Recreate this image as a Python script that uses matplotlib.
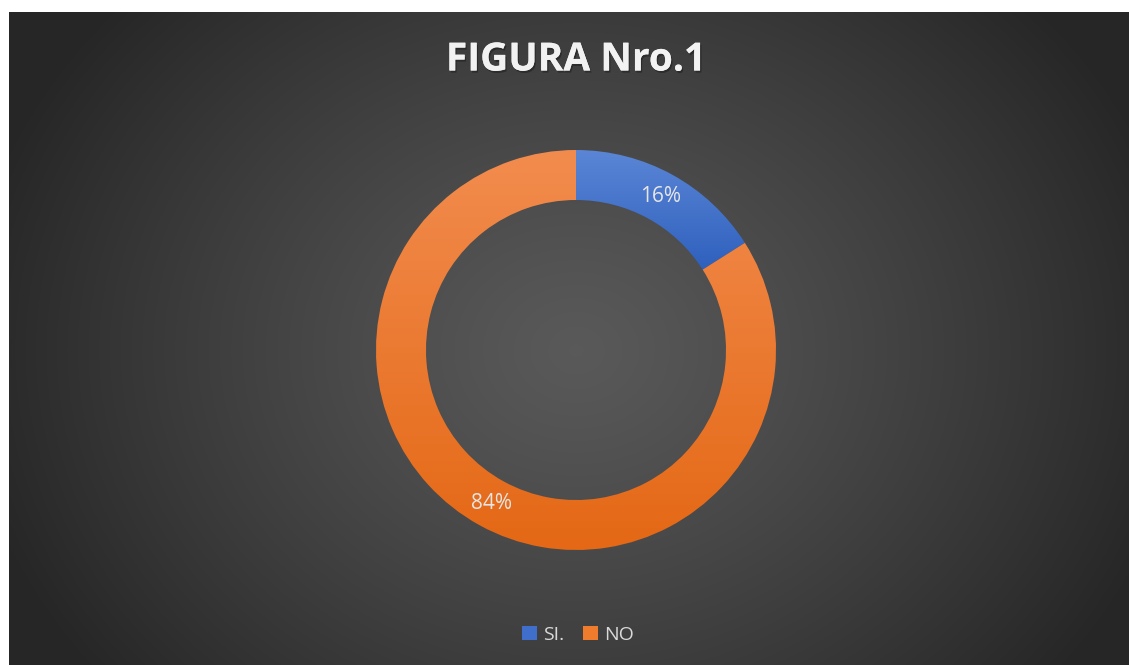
import matplotlib.pyplot as plt
import matplotlib.patheffects as pe
import numpy as np
from matplotlib.colors import to_rgb
from matplotlib.patches import Rectangle

# data
labels = ["SI.", "NO"]
values = [16, 84]
colors_top = ["#5b86d6", "#f28c4e"]
colors_bottom = ["#2e60bd", "#e46815"]
legend_colors = ["#3f6fcb", "#ef7b2c"]

W, H = 1129, 665
fig = plt.figure(figsize=(W / 100, H / 100), dpi=100, facecolor="white")

# dark radial-gradient background
bg = fig.add_axes([9 / W, 0, (W - 9) / W, (H - 12) / H])
bg.set_axis_off()
yy, xx = np.mgrid[0:653, 0:1120]
cx, cy = 567, 338
d = np.sqrt(((xx - cx) / 620) ** 2 + ((yy - cy) / 520) ** 2)
d = np.clip(d, 0, 1)
level = 0.35 - (0.35 - 0.15) * d ** 1.2
img = np.dstack([level, level, level])
bg.imshow(img, aspect="auto", extent=[0, 1, 0, 1], origin="upper")
bg.set_xlim(0, 1)
bg.set_ylim(0, 1)

# title
fig.text(576 / W, 1 - 60 / H, "FIGURA Nro.1", ha="center", va="center",
         fontsize=28, fontweight="bold", color="#f2f2f2", family="Open Sans",
         path_effects=[pe.withSimplePatchShadow(offset=(1, -1.5), shadow_rgbFace="black", alpha=0.3), pe.Normal()])

# doughnut
R = 200
ax = fig.add_axes([(576 - R) / W, (H - 350 - R) / H, 2 * R / W, 2 * R / H])
ax.set_axis_off()
wedges, _ = ax.pie(values, startangle=90, counterclock=False,
                   radius=1.0, wedgeprops=dict(width=0.25, edgecolor="none"))
ax.set_xlim(-1, 1)
ax.set_ylim(-1, 1)

# vertical gradient fill clipped to each wedge, spanning that wedge's own height
for w, ct, cb in zip(wedges, colors_top, colors_bottom):
    w.set_facecolor("none")
    ext = w.get_path().get_extents()
    t = np.linspace(0, 1, 256)[:, None, None]
    c1 = np.array(to_rgb(ct))
    c2 = np.array(to_rgb(cb))
    grad = c1 * (1 - t) + c2 * t
    grad = np.repeat(grad, 2, axis=1)
    im = ax.imshow(grad, extent=[ext.x0, ext.x1, ext.y0, ext.y1], aspect="auto",
                   origin="upper", zorder=1)
    im.set_clip_path(w)
ax.set_xlim(-1, 1)
ax.set_ylim(-1, 1)

# percentage labels at mid-ring
total = sum(values)
start = 90.0
for v in values:
    mid = np.deg2rad(start - v / total * 360 / 2)
    start -= v / total * 360
    r = 0.875
    ax.text(r * np.cos(mid), r * np.sin(mid), f"{v / total:.0%}", ha="center", va="center",
            fontsize=15, color="#e6e6e6", family="Open Sans", zorder=3)

# legend
handles = [Rectangle((0, 0), 1, 1, facecolor=c, edgecolor="none") for c in legend_colors]
fig.legend(handles, labels, loc="center", bbox_to_anchor=(578 / W, 1 - 635 / H), ncol=2,
           frameon=False, labelcolor="#d9d9d9", handlelength=0.75, handleheight=0.75,
           handletextpad=0.3, columnspacing=1.0, prop={"family": "Open Sans", "size": 14})

fig.savefig("out.png", dpi=100, facecolor="white")
